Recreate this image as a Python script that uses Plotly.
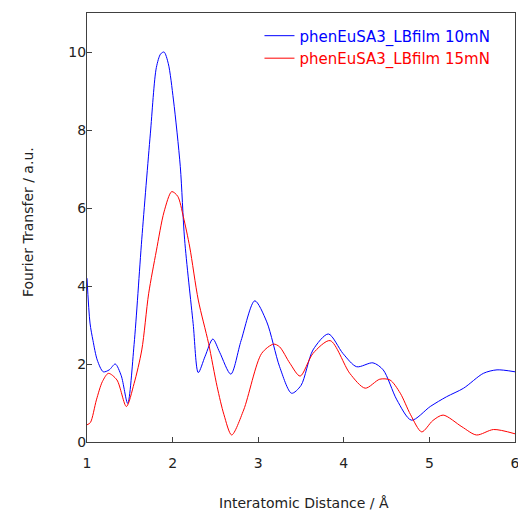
import plotly.graph_objects as go

blue_x = [1.0, 1.035, 1.07, 1.12, 1.19, 1.26, 1.33, 1.40, 1.475, 1.55, 1.64, 1.74, 1.81, 1.86, 1.90, 1.95, 2.01, 2.09, 2.14, 2.24, 2.30, 2.38, 2.47, 2.55, 2.68, 2.80, 2.96, 3.10, 3.25, 3.39, 3.50, 3.64, 3.82, 3.99, 4.15, 4.34, 4.46, 4.62, 4.79, 5.01, 5.20, 5.40, 5.63, 5.79, 6.0]
blue_y = [4.2, 3.05, 2.6, 2.1, 1.8, 1.85, 2.0, 1.7, 0.99, 2.5, 5.2, 7.9, 9.6, 9.95, 10.0, 9.7, 8.77, 7.06, 5.2, 3.04, 1.78, 2.2, 2.64, 2.3, 1.74, 2.6, 3.62, 3.08, 1.93, 1.25, 1.45, 2.36, 2.77, 2.27, 1.93, 2.03, 1.85, 1.08, 0.56, 0.91, 1.16, 1.38, 1.76, 1.85, 1.80]

red_x = [1.0, 1.04, 1.11, 1.18, 1.25, 1.35, 1.46, 1.55, 1.64, 1.72, 1.81, 1.90, 1.99, 2.06, 2.125, 2.20, 2.30, 2.42, 2.52, 2.60, 2.69, 2.83, 3.04, 3.18, 3.25, 3.37, 3.49, 3.64, 3.84, 4.07, 4.25, 4.42, 4.54, 4.66, 4.78, 4.91, 5.04, 5.16, 5.38, 5.55, 5.75, 6.0]
red_y = [0.44, 0.5, 1.08, 1.55, 1.76, 1.59, 0.91, 1.5, 2.36, 3.8, 4.9, 5.9, 6.42, 6.3, 5.78, 5.0, 3.64, 2.53, 1.42, 0.7, 0.18, 0.82, 2.27, 2.51, 2.44, 2.02, 1.69, 2.27, 2.6, 1.76, 1.38, 1.61, 1.59, 1.25, 0.7, 0.26, 0.55, 0.69, 0.39, 0.18, 0.32, 0.21]

x_ticks = [1, 2, 3, 4, 5, 6]
y_ticks = [0, 2, 4, 6, 8, 10]

FONT = "DejaVu Sans"

fig = go.Figure()
fig.add_trace(go.Scatter(x=blue_x, y=blue_y, mode="lines", line=dict(color="#0000ff", width=1, shape="spline", smoothing=0.8),
                         name="<span style='color:#0000ff'>phenEuSA3_LBfilm 10mN</span>"))
fig.add_trace(go.Scatter(x=red_x, y=red_y, mode="lines", line=dict(color="#ff0000", width=1, shape="spline", smoothing=0.8),
                         name="<span style='color:#ff0000'>phenEuSA3_LBfilm 15mN</span>"))

axis_common = dict(showgrid=False, zeroline=False, showline=True, linecolor="#404040", linewidth=1, mirror=True,
                   ticks="inside", ticklen=5, tickcolor="#404040", automargin=False, ticklabeloverflow="allow",
                   tickfont=dict(family=FONT, size=14, color="#222222"))
fig.update_xaxes(range=[1, 6], tickvals=x_ticks, ticktext=[str(v) for v in x_ticks], ticklabelstandoff=8, **axis_common)
fig.update_yaxes(range=[0, 11], tickvals=y_ticks, ticktext=[str(v) for v in y_ticks], ticklabelstandoff=-3, **axis_common)

plot_w = 518 - 87 - 3
plot_h = 513 - 13 - 71
fig.update_layout(
    width=518, height=513,
    margin=dict(l=87, r=3, t=13, b=71),
    paper_bgcolor="white", plot_bgcolor="white",
    legend=dict(x=0.403, y=0.985, xanchor="left", yanchor="top", bgcolor="rgba(0,0,0,0)",
                font=dict(family=FONT, size=15), tracegroupgap=0, itemwidth=30),
    showlegend=True,
    annotations=[
        dict(text="Interatomic Distance / Å", x=(304 - 87) / plot_w, y=(442 - 503) / plot_h,
             xref="paper", yref="paper", yanchor="middle",
             showarrow=False, font=dict(family=FONT, size=14, color="#222222")),
        dict(text="Fourier Transfer / a.u.", x=(18 - 87) / plot_w, y=(442 - 222) / plot_h,
             xref="paper", yref="paper", textangle=-90,
             showarrow=False, font=dict(family=FONT, size=14, color="#222222")),
    ],
)
fig.write_html("out.html", config={"displayModeBar": False},
               post_script="document.body.style.margin='0';document.body.style.overflow='hidden';")
